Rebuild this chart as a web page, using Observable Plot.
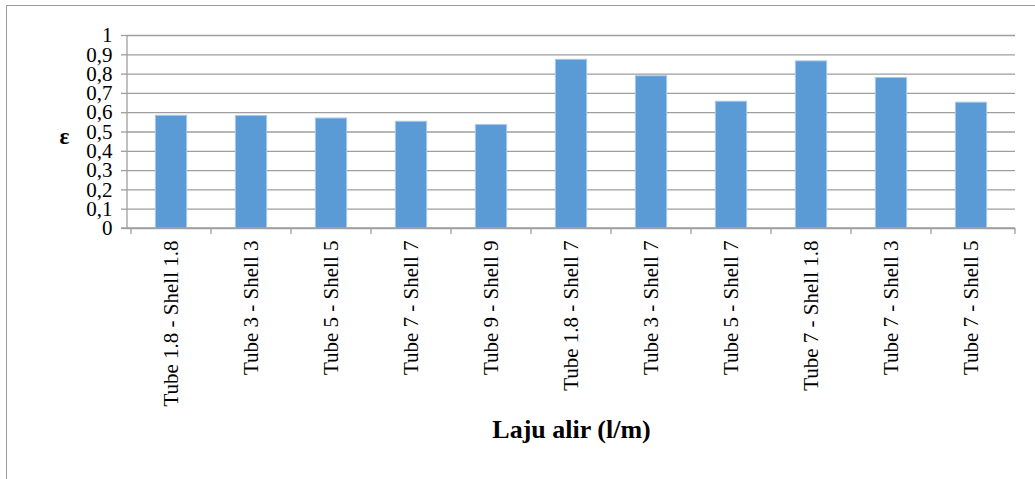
<!DOCTYPE html>
<html>
<head>
<meta charset="utf-8">
<script src="https://cdn.jsdelivr.net/npm/d3@7"></script>
<script src="https://cdn.jsdelivr.net/npm/@observablehq/plot@0.6"></script>
<style>
  html, body { margin: 0; padding: 0; background: #fff; }
  #wrap { position: relative; width: 1035px; height: 479px; overflow: hidden; }
  #edge { position: absolute; left: 6px; top: 5px; width: 1100px; height: 600px;
          border-left: 1.5px solid #9b9b9b; border-top: 1.5px solid #9b9b9b; pointer-events: none; }
  #wrap svg { position: absolute; left: 0; top: 0; }
  #wrap svg, #wrap svg text { font-family: "Liberation Serif", "Times New Roman", serif; }
</style>
</head>
<body>
<div id="wrap"><div id="edge"></div></div>
<script>
// Flow-rate combinations (tube / shell, l/m)
const categories = [
  "Tube 1.8 - Shell 1.8",
  "Tube 3 - Shell 3",
  "Tube 5 - Shell 5",
  "Tube 7 - Shell 7",
  "Tube 9 - Shell 9",
  "Tube 1.8 - Shell 7",
  "Tube 3 - Shell 7",
  "Tube 5 - Shell 7",
  "Tube 7 - Shell 1.8",
  "Tube 7 - Shell 3",
  "Tube 7 - Shell 5"
];

// Effectiveness ε for each combination
const effectiveness = [0.584, 0.583, 0.570, 0.553, 0.536, 0.874, 0.789, 0.657, 0.866, 0.780, 0.652];

// Y axis tick values
const yTicks = [0, 0.1, 0.2, 0.3, 0.4, 0.5, 0.6, 0.7, 0.8, 0.9, 1];

const rows = categories.map((c, i) => ({category: c, e: effectiveness[i]}));

const W = 1035, H = 479;
const mL = 127, mR = 20, mT = 35, mB = 251;
const step = (W - mL - mR) / categories.length;
const barWidth = 32;
const inset = (step - barWidth) / 2;
const gray = "#9e9e9e";
const serif = "'Liberation Serif', 'Times New Roman', serif";
const fmt = d => String(+d.toFixed(1)).replace(".", ",");

// Axis lines and category boundary ticks
function axisLines(index, scales, channels, dims) {
  const {x, y} = scales;
  const x0 = dims.marginLeft, x1 = dims.width - dims.marginRight;
  const y0 = y(0), y1 = y(1);
  const g = d3.create("svg:g").attr("stroke", gray).attr("stroke-width", 1.3);
  g.append("line").attr("x1", x0).attr("x2", x0).attr("y1", y1).attr("y2", y0);
  g.append("line").attr("x1", x0 - 6).attr("x2", x1).attr("y1", y0).attr("y2", y0);
  const bounds = categories.map(c => x(c)).concat([x1]);
  for (const b of bounds) {
    g.append("line").attr("x1", b).attr("x2", b).attr("y1", y0).attr("y2", y0 + 6);
  }
  return g.node();
}

const chart = Plot.plot({
  width: W,
  height: H,
  marginLeft: mL,
  marginRight: mR,
  marginTop: mT,
  marginBottom: mB,
  style: `font-family: ${serif}; font-size: 21px; color: #000; background: transparent; overflow: visible;`,
  x: {domain: categories, padding: 0, axis: null},
  y: {domain: [0, 1], axis: null},
  marks: [
    Plot.gridY(yTicks, {stroke: gray, strokeOpacity: 1, strokeWidth: 1.3}),
    Plot.axisY(yTicks, {
      tickSize: 6, tickPadding: 9, stroke: gray, strokeWidth: 1.3,
      tickFormat: fmt, fontSize: 21, fontFamily: serif, label: null
    }),
    Plot.barY(rows, {
      x: "category", y: "e",
      fill: "#5b9bd5", stroke: "#a9c9ea", strokeWidth: 1,
      insetLeft: inset, insetRight: inset
    }),
    axisLines,
    Plot.axisX({tickSize: 0, tickRotate: -90, tickPadding: 12, fontSize: 21, fontFamily: serif, label: null}),
    Plot.text(["ε"], {
      frameAnchor: "left", dx: -68, dy: 5, fontSize: 23, fontWeight: "bold", fontFamily: serif
    }),
    Plot.text(["Laju alir (l/m)"], {
      frameAnchor: "bottom", dy: 209, fontSize: 26, fontWeight: "bold", fontFamily: serif
    })
  ]
});

document.getElementById("wrap").appendChild(chart);
</script>
</body>
</html>
